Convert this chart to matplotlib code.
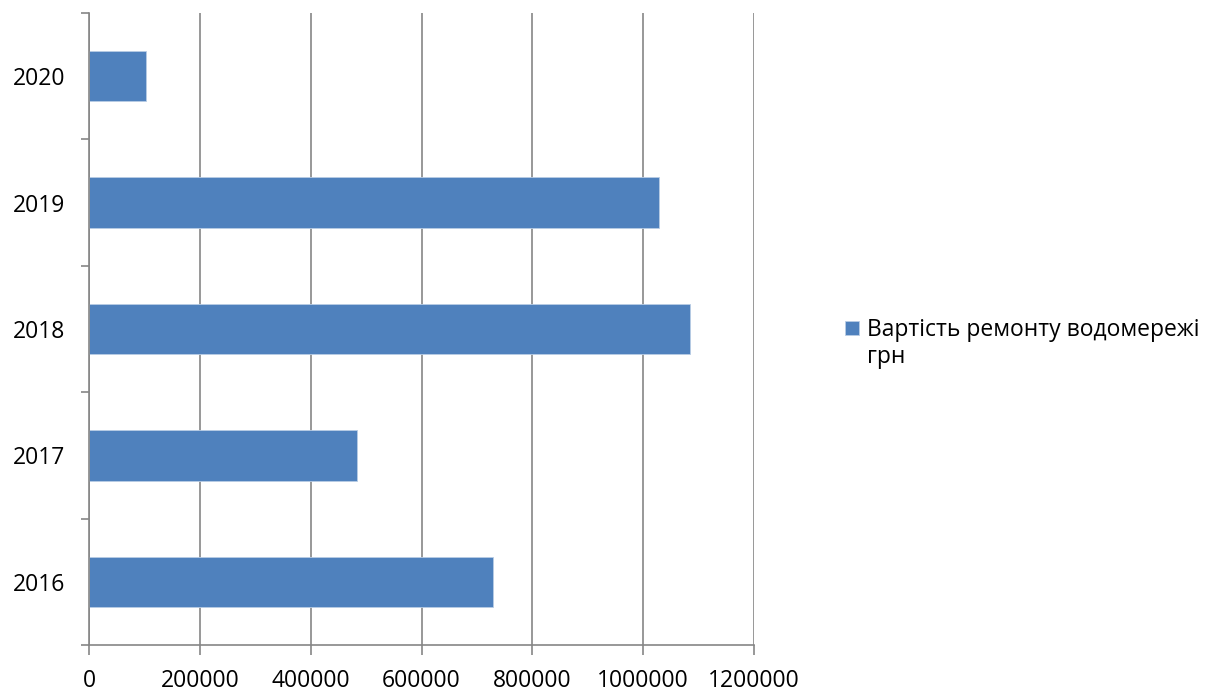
import numpy as np
import matplotlib
matplotlib.use("Agg")
from matplotlib import pyplot as plt

plt.rcParams['font.family'] = ['Open Sans', 'DejaVu Sans']

years = ['2016', '2017', '2018', '2019', '2020']
cost = [729000, 483500, 1084500, 1028000, 103400]
series_name = 'Вартість ремонту водомережі'
series_unit = 'грн'

BAR = '#4F81BD'
GREY = '#868686'

fig = plt.figure(figsize=(12.2, 6.95), dpi=100)
ax = fig.add_axes([89/1220, 1 - 645/695, (754 - 89)/1220, (645 - 13)/695])

pos = np.arange(len(years))
ax.barh(pos, cost, height=0.4, color=BAR, edgecolor='#b9cde5', linewidth=0.6,
        label=series_name, zorder=3)

ax.set_xlim(0, 1200000)
ax.set_ylim(-0.5, len(years) - 0.5)
ax.set_xticks(np.arange(0, 1200001, 200000))
ax.set_xticklabels([str(v) for v in range(0, 1200001, 200000)])
ax.set_yticks(pos)
ax.set_yticklabels(years)
ax.set_yticks(np.arange(-0.5, len(years)), minor=True)

ax.grid(axis='x', color=GREY, linewidth=1.2, zorder=0)
for s in ['top', 'right']:
    ax.spines[s].set_visible(False)
for s in ['left', 'bottom']:
    ax.spines[s].set_color(GREY)
    ax.spines[s].set_linewidth(1.2)
    ax.spines[s].set_zorder(4)

ax.tick_params(axis='y', which='major', length=0, pad=17, labelsize=16.5)
ax.tick_params(axis='y', which='minor', length=6, width=1.2, color=GREY)
ax.tick_params(axis='x', which='major', length=7, width=1.2, color=GREY,
               pad=10, labelsize=16.5)

leg = fig.legend(loc='upper left', bbox_to_anchor=(845/1220, 1 - 318/695),
                 frameon=False, fontsize=16.5, handlelength=0.6,
                 handleheight=0.6, handletextpad=0.35, borderpad=0,
                 borderaxespad=0)
fig.text(867/1220, 1 - 357/695, series_unit, fontsize=16.5, va='center',
         ha='left')

fig.savefig('out.png', dpi=100)
